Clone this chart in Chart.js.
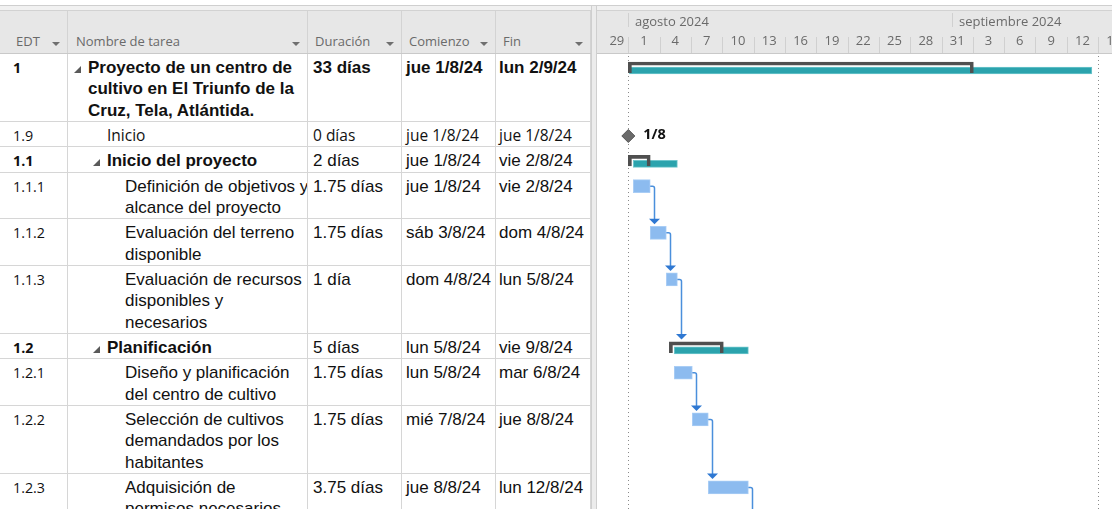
<!DOCTYPE html>
<html>
<head>
<meta charset="utf-8">
<script src="https://cdn.jsdelivr.net/npm/chart.js@4.4.1/dist/chart.umd.min.js"></script>
<style>
html, body { margin: 0; padding: 0; width: 1112px; height: 509px; overflow: hidden; background: #fff; }
#topline { position: absolute; left: 0; top: 5px; width: 1112px; height: 1px; background: #cfcfcf; }
#topband { position: absolute; left: 0; top: 6px; width: 1112px; height: 4px; background: #f1f1f1; }
#grid { position: absolute; left: 0; top: 10px; width: 591px; height: 499px; overflow: hidden; }
.hdr { display: flex; height: 44px; box-sizing: border-box; background: #e7e7e7;
       border-top: 1px solid #d2d2d2; border-bottom: 1px solid #c9c9c9; }
.hdr div { position: relative; box-sizing: border-box; border-right: 1px solid #d3d3d3;
           font: 13px "Open Sans", sans-serif; color: #6a6a6a; padding-top: 20px; line-height: 20px; white-space: nowrap; }
.hdr i { position: absolute; top: 31px; width: 0; height: 0; border-left: 4px solid transparent;
         border-right: 4px solid transparent; border-top: 4px solid #6f6f6f; }
.row { display: flex; border-bottom: 1px solid #d6d6d6; }
.row div { position: relative; box-sizing: border-box; border-right: 1px solid #d6d6d6; padding-top: 3px;
           white-space: nowrap; color: #111; overflow: hidden;
           font: 17px "Liberation Sans", Arial, sans-serif; line-height: 21.333px; }
.row div.edt { font: 14.3px "Open Sans", sans-serif; line-height: 21.333px; padding-left: 13px; }
.row .b { font-weight: bold !important; }
.row .seg { font: 15.5px "Open Sans", sans-serif !important; line-height: 21.333px !important; }
.tri { position: absolute; top: 12px; width: 0; height: 0; border-left: 7px solid transparent; border-bottom: 7px solid #5a5a5a; }
#split { position: absolute; left: 591px; top: 6px; width: 6px; height: 503px; box-sizing: border-box;
         background: #ececec; border-left: 1px solid #cfcfcf; border-right: 1px solid #cfcfcf; }
#gantt { position: absolute; left: 597px; top: 10px; }
</style>
</head>
<body>
<div id="topline"></div>
<div id="topband"></div>
<div id="grid"></div>
<div id="split"></div>
<canvas id="gantt" width="515" height="499"></canvas>
<script>
// columnas de la tabla
const colNames = ['EDT', 'Nombre de tarea', 'Duración', 'Comienzo', 'Fin'];
const colWidths = [68, 240, 94, 94, 95];

// filas
const edt = ['1', '1.9', '1.1', '1.1.1', '1.1.2', '1.1.3', '1.2', '1.2.1', '1.2.2', '1.2.3'];
const taskNames = [
    ['Proyecto de un centro de', 'cultivo en El Triunfo de la', 'Cruz, Tela, Atlántida.'],
    ['Inicio'],
    ['Inicio del proyecto'],
    ['Definición de objetivos y', 'alcance del proyecto'],
    ['Evaluación del terreno', 'disponible'],
    ['Evaluación de recursos', 'disponibles y', 'necesarios'],
    ['Planificación'],
    ['Diseño y planificación', 'del centro de cultivo'],
    ['Selección de cultivos', 'demandados por los', 'habitantes'],
    ['Adquisición de', 'permisos necesarios']
];
const levels = [0, 1, 1, 2, 2, 2, 1, 2, 2, 2];
const kinds = ['summary', 'milestone', 'summary', 'task', 'task', 'task', 'summary', 'task', 'task', 'task'];
const durations = ['33 días', '0 días', '2 días', '1.75 días', '1.75 días', '1 día', '5 días', '1.75 días', '1.75 días', '3.75 días'];
const starts = ['jue 1/8/24', 'jue 1/8/24', 'jue 1/8/24', 'jue 1/8/24', 'sáb 3/8/24', 'dom 4/8/24', 'lun 5/8/24', 'lun 5/8/24', 'mié 7/8/24', 'jue 8/8/24'];
const finishes = ['lun 2/9/24', 'jue 1/8/24', 'vie 2/8/24', 'vie 2/8/24', 'dom 4/8/24', 'lun 5/8/24', 'vie 9/8/24', 'mar 6/8/24', 'jue 8/8/24', 'lun 12/8/24'];

// barras del gantt, en días desde el 1/8/2024
const barStart = [0.1, 0, 0.48, 0.48, 2.1, 3.64, 4.4, 4.4, 6.13, 7.66];
const barEnd = [44.4, 0, 4.7, 2.1, 3.64, 4.7, 11.5, 6.13, 7.66, 11.5];
const bracketStart = [0, null, 0, null, null, null, 3.93, null, null, null];
const bracketEnd = [33.05, null, 2.1, null, null, null, 9.1, null, null, null];
const milestoneLabels = [null, '1/8', null, null, null, null, null, null, null, null];
// vínculos fin-comienzo (índices de fila, -1 = sigue abajo)
const links = [[3, 4], [4, 5], [5, 6], [7, 8], [8, 9], [9, -1]];

// escala de tiempo
const monthLabels = ['agosto 2024', 'septiembre 2024'];
const monthStarts = [0, 31];
const dayTickLabels = ['29', '1', '4', '7', '10', '13', '16', '19', '22', '25', '28', '31', '3', '6', '9', '12', '15'];
const dayTickFirst = -3;
const dayTickStep = 3;
const markerDays = [0, 45];

// ---- tabla ----
const grid = document.getElementById('grid');
const hdr = document.createElement('div');
hdr.className = 'hdr';
const hdrPad = [16, 8, 7, 7, 7];
colNames.forEach((name, c) => {
    const d = document.createElement('div');
    d.style.width = colWidths[c] + 'px';
    d.style.paddingLeft = hdrPad[c] + 'px';
    d.textContent = name;
    const a = document.createElement('i');
    a.style.left = (colWidths[c] - 16) + 'px';
    d.appendChild(a);
    hdr.appendChild(d);
});
grid.appendChild(hdr);

const namePad = [20, 39, 57];
const rows = [];
edt.forEach((id, i) => {
    const r = document.createElement('div');
    r.className = 'row';
    const isSum = kinds[i] === 'summary';
    const isMs = kinds[i] === 'milestone';
    const allBold = levels[i] === 0;
    const cells = [id, taskNames[i].join('<br>'), durations[i], starts[i], finishes[i]];
    cells.forEach((txt, c) => {
        const d = document.createElement('div');
        d.style.width = colWidths[c] + 'px';
        d.innerHTML = txt;
        if (c === 0) {
            d.className = 'edt' + (isSum ? ' b' : '');
        } else {
            if (c === 1) {
                d.style.paddingLeft = namePad[levels[i]] + 'px';
                if (isSum) {
                    const t = document.createElement('span');
                    t.className = 'tri';
                    t.style.left = (namePad[levels[i]] - 14) + 'px';
                    d.appendChild(t);
                }
            } else {
                d.style.paddingLeft = (c === 2 ? 5 : c === 3 ? 4 : 3) + 'px';
            }
            const cls = [];
            if ((c === 1 && isSum) || allBold) cls.push('b');
            if (isMs) cls.push('seg');
            d.className = cls.join(' ');
        }
        r.appendChild(d);
    });
    grid.appendChild(r);
    rows.push(r);
});

// ---- gantt ----
const headerH = 44;
const bodyTop = grid.getBoundingClientRect().top + headerH;
const rowTop = rows.map(r => r.getBoundingClientRect().top - bodyTop);
const bodyH = 499 - headerH;

const summaryBars = [], taskBars = [], brackets = [], milestones = [];
kinds.forEach((k, i) => {
    if (k === 'summary') {
        summaryBars.push({ x: [barStart[i], barEnd[i]], y: rowTop[i] + 16.5 });
        brackets.push({ x: [bracketStart[i], bracketEnd[i]], y: rowTop[i] + 13.5 });
    } else if (k === 'task') {
        taskBars.push({ x: [barStart[i], barEnd[i]], y: rowTop[i] + 13.5 });
    } else {
        milestones.push({ x: barStart[i], y: rowTop[i] + 14, label: milestoneLabels[i] });
    }
});

const timescale = {
    id: 'timescale',
    beforeDraw(chart) {
        const { ctx, chartArea, scales: { x } } = chart;
        ctx.save();
        ctx.fillStyle = '#e7e7e7';
        ctx.fillRect(0, 0, chart.width, chartArea.top);
        ctx.fillStyle = '#d2d2d2';
        ctx.fillRect(0, 0, chart.width, 1);
        ctx.fillStyle = '#c9c9c9';
        ctx.fillRect(0, chartArea.top - 1, chart.width, 1);
        ctx.font = '13px "Open Sans", sans-serif';
        ctx.textBaseline = 'middle';
        // meses
        monthLabels.forEach((m, k) => {
            const px = Math.round(x.getPixelForValue(monthStarts[k]));
            ctx.fillStyle = '#d0d0d0';
            ctx.fillRect(px, 3, 1, 14);
            ctx.fillStyle = '#6a6a6a';
            ctx.textAlign = 'left';
            ctx.fillText(m, px + 7, 12);
        });
        // días
        dayTickLabels.forEach((lab, k) => {
            const d = dayTickFirst + k * dayTickStep;
            const px = Math.round(x.getPixelForValue(d));
            if (k > 0) {
                ctx.fillStyle = '#d0d0d0';
                ctx.fillRect(px, 27, 1, 16);
            }
            ctx.fillStyle = '#6a6a6a';
            ctx.textAlign = 'center';
            // la primera celda está recortada, su etiqueta va un poco a la derecha
            const mid = k === 0 ? d + 1.9 : d + dayTickStep / 2;
            ctx.fillText(lab, x.getPixelForValue(mid), 31);
        });
        ctx.restore();
    },
    beforeDatasetsDraw(chart) {
        const { ctx, chartArea, scales: { x } } = chart;
        ctx.save();
        ctx.strokeStyle = '#8a8a8a';
        ctx.lineWidth = 1;
        ctx.setLineDash([1, 3]);
        markerDays.forEach(d => {
            const px = Math.round(x.getPixelForValue(d)) + 0.5;
            ctx.beginPath();
            ctx.moveTo(px, chartArea.top + 2);
            ctx.lineTo(px, chartArea.bottom);
            ctx.stroke();
        });
        ctx.restore();
    },
    afterDatasetsDraw(chart) {
        const { ctx, chartArea, scales: { x, y } } = chart;
        ctx.save();
        // vínculos
        links.forEach(([a, b]) => {
            const x0 = x.getPixelForValue(barEnd[a]);
            const y0 = y.getPixelForValue(rowTop[a] + 13.5);
            const lx = Math.round(x0 + 4) + 0.5;
            let tip;
            if (b < 0) tip = chartArea.bottom + 10;
            else if (kinds[b] === 'summary') tip = y.getPixelForValue(rowTop[b] + 13.5) - 8;
            else tip = y.getPixelForValue(rowTop[b] + 13.5) - 8.5;
            ctx.strokeStyle = '#4a8fdc';
            ctx.lineWidth = 1.5;
            ctx.beginPath();
            ctx.moveTo(x0, y0);
            ctx.lineTo(lx - 2, y0);
            ctx.quadraticCurveTo(lx, y0, lx, y0 + 2);
            ctx.lineTo(lx, tip - 4);
            ctx.stroke();
            if (b >= 0) {
                ctx.fillStyle = '#2f78d2';
                ctx.beginPath();
                ctx.moveTo(lx - 5.5, tip - 5.5);
                ctx.lineTo(lx + 5.5, tip - 5.5);
                ctx.lineTo(lx, tip);
                ctx.closePath();
                ctx.fill();
            }
        });
        // etiqueta del hito
        ctx.fillStyle = '#111';
        ctx.font = 'bold 14.5px "Open Sans", sans-serif';
        ctx.textBaseline = 'middle';
        ctx.textAlign = 'left';
        milestones.forEach(m => {
            ctx.fillText(m.label, x.getPixelForValue(m.x) + 15, y.getPixelForValue(m.y) - 1);
        });
        ctx.restore();
    }
};

const chart = new Chart(document.getElementById('gantt'), {
    type: 'bar',
    data: {
        datasets: [
            {
                type: 'scatter',
                label: 'Hito',
                data: milestones,
                pointStyle: 'rectRot',
                radius: 6.5,
                backgroundColor: '#6a6a6a',
                borderColor: '#555555',
                borderWidth: 1,
                order: 0,
            },
            {
                label: 'Resumen (línea)',
                data: brackets,
                backgroundColor: 'rgba(0,0,0,0)',
                borderColor: '#4f4f4f',
                borderWidth: { top: 3, left: 3, right: 3, bottom: 0 },
                borderSkipped: false,
                barThickness: 11,
                order: 1,
            },
            {
                label: 'Tareas',
                data: taskBars,
                backgroundColor: '#8cbbef',
                borderColor: '#a9cdf5',
                borderWidth: 1,
                borderSkipped: false,
                barThickness: 13,
                order: 2,
            },
            {
                label: 'Resumen',
                data: summaryBars,
                backgroundColor: '#2ba3ad',
                borderColor: '#6fc6cc',
                borderWidth: 1,
                borderSkipped: false,
                barThickness: 7,
                order: 3,
            },
        ],
    },
    options: {
        indexAxis: 'y',
        responsive: false,
        animation: false,
        layout: { autoPadding: false, padding: { top: headerH, left: 0, right: 0, bottom: 0 } },
        datasets: { bar: { grouped: false } },
        plugins: {
            legend: { display: false },
            tooltip: { enabled: false },
        },
        scales: {
            x: { type: 'linear', offset: false, min: dayTickFirst, max: dayTickFirst + 515 / 10.44, display: false },
            y: { type: 'linear', offset: false, min: 0, max: bodyH, reverse: true, display: false },
        },
    },
    plugins: [timescale],
});
</script>
</body>
</html>
